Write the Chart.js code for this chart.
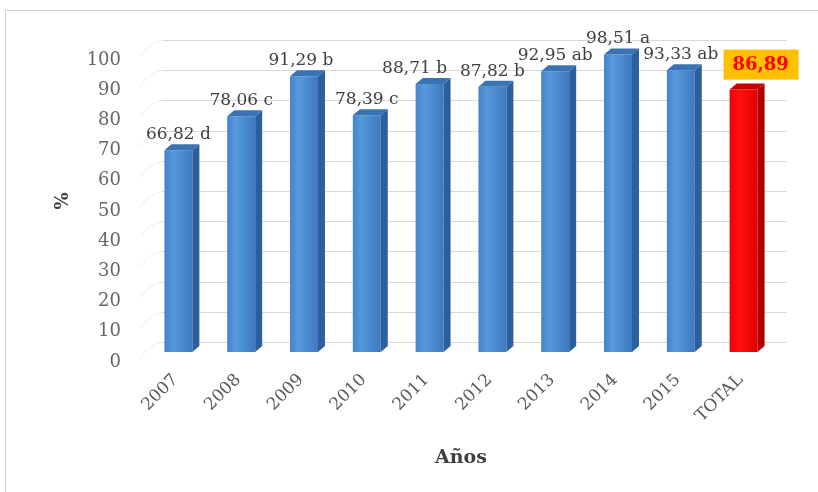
<!DOCTYPE html>
<html lang="es">
<head>
<meta charset="UTF-8">
<title>Años - %</title>
<script src="https://cdn.jsdelivr.net/npm/chart.js"></script>
<style>
    body { margin: 0; background: #fff; }
    #wrap { width: 818px; height: 492px; }
</style>
</head>
<body>
<div id="wrap"><canvas id="barChart" width="818" height="492"></canvas></div>
<script>
    // data
    const years = ['2007', '2008', '2009', '2010', '2011', '2012', '2013', '2014', '2015', 'TOTAL'];
    const values = [66.82, 78.06, 91.29, 78.39, 88.71, 87.82, 92.95, 98.51, 93.33, 86.89];
    const letters = ['d', 'c', 'b', 'c', 'b', 'b', 'ab', 'a', 'ab', ''];
    const yTicks = [0, 10, 20, 30, 40, 50, 60, 70, 80, 90, 100];

    const BAR_PCT = 0.445;
    const DX = 7, DY = 6;       // depth of the fake 3d
    const serif = '"DejaVu Serif", "Liberation Serif", serif';
    // small manual nudges so neighbouring labels don't collide (like in the original)
    const labelNudge = { '2011': -15, '2009': -3 };

    function isTotal(i) { return years[i] === 'TOTAL'; }

    function frontColor(ctx) {
        const chart = ctx.chart;
        const xs = chart.scales.x;
        const i = ctx.dataIndex;
        if (!xs || !chart.chartArea) return isTotal(i) ? '#ff0000' : '#4a8bd2';
        const cx = xs.getPixelForValue(i);
        const w = xs.width / years.length * BAR_PCT;
        const g = chart.ctx.createLinearGradient(cx - w / 2, 0, cx + w / 2, 0);
        if (isTotal(i)) {
            g.addColorStop(0, '#f00000');
            g.addColorStop(0.35, '#ff1010');
            g.addColorStop(1, '#e00000');
        } else {
            g.addColorStop(0, '#4383cb');
            g.addColorStop(0.3, '#5799dc');
            g.addColorStop(1, '#3c79c0');
        }
        return g;
    }

    const bar3d = {
        id: 'bar3d',
        beforeDraw(chart) {
            const c = chart.ctx;
            c.save();
            c.fillStyle = '#ffffff';
            c.fillRect(0, 0, chart.width, chart.height);
            c.strokeStyle = '#d0d0d0';
            c.lineWidth = 1;
            c.strokeRect(5.5, 10.5, chart.width + 20, chart.height + 20);
            c.restore();
        },
        beforeDatasetsDraw(chart) {
            const c = chart.ctx;
            const ys = chart.scales.y;
            const area = chart.chartArea;
            c.save();
            c.lineWidth = 1;
            yTicks.forEach(v => {
                const y = Math.round(ys.getPixelForValue(v)) + 0.5;
                c.strokeStyle = '#eeeeee';
                c.beginPath();
                c.moveTo(area.left - 7, y + 6);
                c.quadraticCurveTo(area.left + 2, y - 8, area.left + 15, y - 10);
                c.stroke();
                c.strokeStyle = '#d9d9d9';
                c.beginPath();
                c.moveTo(area.left + 15, y - 10);
                c.lineTo(area.right + 12, y - 10);
                c.stroke();
            });
            c.restore();
        },
        afterDatasetsDraw(chart) {
            const c = chart.ctx;
            const meta = chart.getDatasetMeta(0);
            c.save();
            meta.data.forEach((el, i) => {
                const p = el.getProps(['x', 'y', 'base', 'width'], true);
                const l = p.x - p.width / 2, r = p.x + p.width / 2;
                const t = p.y, b = p.base;
                const red = isTotal(i);
                // side face
                c.fillStyle = red ? '#b00000' : '#2d5f9c';
                c.beginPath();
                c.moveTo(r, t);
                c.lineTo(r + DX, t - DY);
                c.lineTo(r + DX, b - DY);
                c.lineTo(r, b);
                c.closePath();
                c.fill();
                // top face
                c.fillStyle = red ? '#c80000' : '#3a73b4';
                c.beginPath();
                c.moveTo(l, t);
                c.lineTo(l + DX, t - DY);
                c.lineTo(r + DX, t - DY);
                c.lineTo(r, t);
                c.closePath();
                c.fill();

                // value labels
                const txt = values[i].toFixed(2).replace('.', ',');
                if (red) {
                    const bx = p.x + 17, by = t - 25;
                    c.fillStyle = '#ffc000';
                    c.fillRect(bx - 37, by - 15, 75, 30);
                    c.fillStyle = '#ff0000';
                    c.font = 'bold 18px ' + serif;
                    c.textAlign = 'center';
                    c.textBaseline = 'middle';
                    c.fillText(txt, bx, by + 1);
                } else {
                    c.fillStyle = '#404040';
                    c.font = '17px ' + serif;
                    c.textAlign = 'center';
                    c.textBaseline = 'alphabetic';
                    const nx = labelNudge[years[i]] || 0;
                    c.fillText(txt + ' ' + letters[i], p.x + nx, t - 11);
                }
            });
            c.restore();
        }
    };

    new Chart(document.getElementById('barChart'), {
        type: 'bar',
        data: {
            labels: years,
            datasets: [{
                label: '%',
                data: values,
                backgroundColor: frontColor,
                borderWidth: 0,
                categoryPercentage: 1,
                barPercentage: BAR_PCT
            }]
        },
        options: {
            responsive: false,
            animation: false,
            devicePixelRatio: 1,
            layout: { padding: { left: 0, right: 43, top: 50, bottom: 0 } },
            plugins: {
                legend: { display: false },
                tooltip: { enabled: false }
            },
            scales: {
                x: {
                    grid: { display: false },
                    border: { display: false },
                    ticks: {
                        color: '#595959',
                        font: { family: serif, size: 17 },
                        minRotation: 45,
                        maxRotation: 45,
                        padding: 10,
                        labelOffset: -3
                    },
                    title: {
                        display: true,
                        text: 'Años',
                        color: '#404040',
                        font: { family: serif, size: 19, weight: 'bold' },
                        padding: { top: 0, bottom: 23 }
                    },
                    afterFit(scale) { scale.height = 140; }
                },
                y: {
                    min: 0,
                    max: 100,
                    grid: { display: false },
                    border: { display: false },
                    ticks: {
                        stepSize: 10,
                        color: '#666666',
                        font: { family: serif, size: 18 },
                        padding: 18,
                        labelOffset: 10
                    },
                    title: {
                        display: true,
                        text: '%',
                        color: '#404040',
                        font: { family: serif, size: 18, weight: 'bold' },
                        padding: { top: 53, bottom: 0 }
                    },
                    afterFit(scale) { scale.width = 147; }
                }
            }
        },
        plugins: [bar3d]
    });
</script>
</body>
</html>
